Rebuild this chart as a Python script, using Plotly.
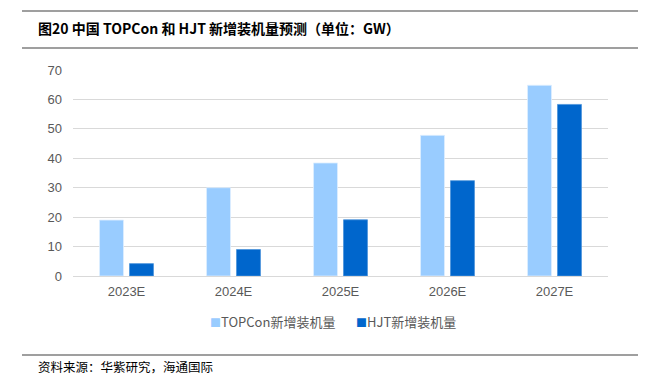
import plotly.graph_objects as go

categories = ["2023E", "2024E", "2025E", "2026E", "2027E"]
topcon = [19.0, 30.0, 38.4, 47.8, 64.8]
hjt = [4.2, 9.0, 19.1, 32.4, 58.3]
series_names = ["TOPCon新增装机量", "HJT新增装机量"]
series_colors = ["#99CCFF", "#0066CC"]
y_ticks = [0, 10, 20, 30, 40, 50, 60, 70]

# page body has an 8px default margin; work in window pixels and offset
OFF = 8
W, H = 649 - OFF, 388 - OFF
PL, PR, PT, PB = 73, 608, 70, 276  # plot area in window pixels
ML, MR, MT, MB = PL - OFF, W - (PR - OFF), PT - OFF, H - (PB - OFF)
PW, PH = W - ML - MR, H - MT - MB

def px_x(x):
    return (x - OFF - ML) / PW

def px_y(y):
    return (H - MB - (y - OFF)) / PH

fig = go.Figure()
fig.add_trace(go.Bar(x=categories, y=topcon, name=series_names[0],
                     marker=dict(color=series_colors[0], line=dict(color="#DDEEFF", width=0.8))))
fig.add_trace(go.Bar(x=categories, y=hjt, name=series_names[1],
                     marker=dict(color=series_colors[1], line=dict(color="#4D94DB", width=0.8))))

cjk = "Noto Sans CJK SC"
fig.update_layout(
    width=W, height=H,
    margin=dict(l=ML, r=MR, t=MT, b=MB, autoexpand=False),
    paper_bgcolor="white", plot_bgcolor="white",
    barmode="group", bargap=0.44, bargroupgap=0.2,
    showlegend=False,
    xaxis=dict(showgrid=False, showline=True, linecolor="#D9D9D9", linewidth=1,
               tickfont=dict(family="Liberation Sans, Arial", size=13, color="#595959"),
               ticks="", ticklabelstandoff=3),
    yaxis=dict(range=[0, 70], tickvals=y_ticks, showgrid=True, gridcolor="#D9D9D9",
               gridwidth=1, zeroline=False, showline=False,
               tickfont=dict(family="Liberation Sans, Arial", size=13, color="#595959"),
               ticks="", ticklabelstandoff=10),
    font=dict(family=cjk),
)

# legend entries (compact, as in the reference)
legend_x = [208, 354]
for name, color, lx in zip(series_names, series_colors, legend_x):
    fig.add_annotation(
        text=f"<span style='color:{color};font-size:11px'>■</span>{name}",
        xref="paper", yref="paper", x=px_x(lx), y=px_y(321),
        xanchor="left", yanchor="middle", showarrow=False,
        font=dict(family=cjk, size=13, color="#595959"))

for y in (11, 48, 355):
    fig.add_shape(type="line", xref="paper", yref="paper",
                  x0=px_x(22), x1=px_x(638), y0=px_y(y), y1=px_y(y),
                  line=dict(color="#404040", width=1.2))

fig.add_annotation(text="<b>图20 中国 TOPCon 和 HJT 新增装机量预测（单位：GW）</b>",
                   xref="paper", yref="paper", x=px_x(36), y=px_y(28),
                   xanchor="left", yanchor="middle", showarrow=False,
                   font=dict(family=cjk, size=14, color="#000000"))
fig.add_annotation(text="资料来源：华紫研究，海通国际",
                   xref="paper", yref="paper", x=px_x(36), y=px_y(366),
                   xanchor="left", yanchor="middle", showarrow=False,
                   font=dict(family=cjk, size=12.5, color="#000000"))

fig.write_html("out.html")
